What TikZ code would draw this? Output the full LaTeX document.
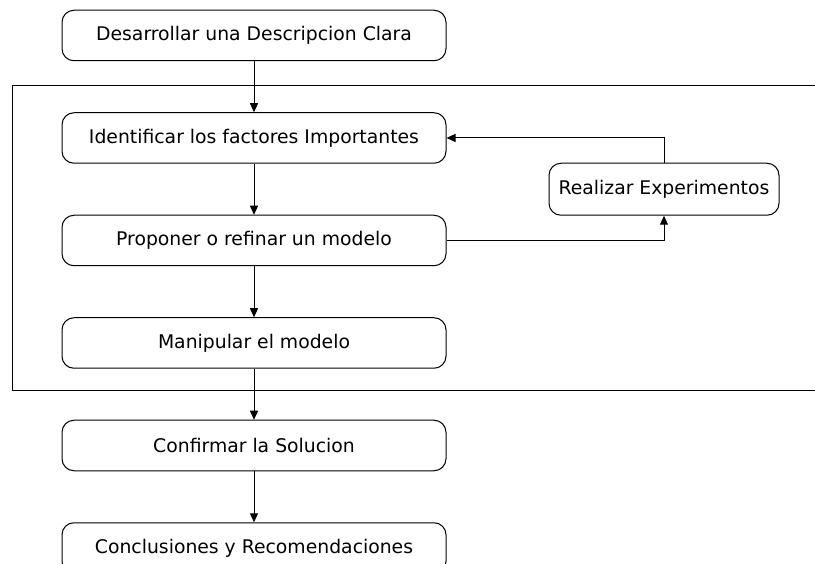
\documentclass[tikz,border=0pt]{standalone}
\usepackage{fontspec}
\setmainfont{DejaVu Sans}
\usetikzlibrary{
  positioning,
  calc,
  arrows.meta
}

\begin{document}
\begin{tikzpicture}[
      x=1pt, y=-1pt,
      node distance=51pt and 102pt,
      stepbox/.style={rectangle, draw, rounded corners=12pt, line width=1pt, minimum width=384pt, minimum height=50.5pt, align=center, font=\fontsize{18.8}{22}\selectfont},
      sidebox/.style={stepbox, minimum width=230pt, minimum height=52pt},
      arrow/.style={-{Triangle[width=8pt, length=9pt]}, line width=1pt}
    ]
      \useasboundingbox (0,0) rectangle (815,564);

      % Nodes
      \node[stepbox] (desc) at (254,35.5) {Desarrollar una Descripcion Clara};
      \node[stepbox, below=of desc] (ident) {Identificar los factores Importantes};
      \node[stepbox, below=of ident] (prop) {Proponer o refinar un modelo};
      \node[stepbox, below=of prop] (manip) {Manipular el modelo};
      \node[stepbox, below=of manip] (conf) {Confirmar la Solucion};
      \node[stepbox, below=of conf] (concl) {Conclusiones y Recomendaciones};
      \coordinate (mid) at ($(ident.east)!0.5!(prop.east)$);
      \node[sidebox, anchor=west] (real) at ([xshift=102pt]mid) {Realizar Experimentos};

      % Frame
      \draw[line width=1pt] (12,86) rectangle (830,391);

      % Arrows
      \draw[arrow] (desc) -- (ident);
      \draw[arrow] (ident) -- (prop);
      \draw[arrow] (prop) -- (manip);
      \draw[arrow] (manip) -- (conf);
      \draw[arrow] (conf) -- (concl);
      \draw[arrow] (prop.east) -| (real.south);
      \draw[arrow] (real.north) |- (ident.east);
    \end{tikzpicture}
\end{document}
